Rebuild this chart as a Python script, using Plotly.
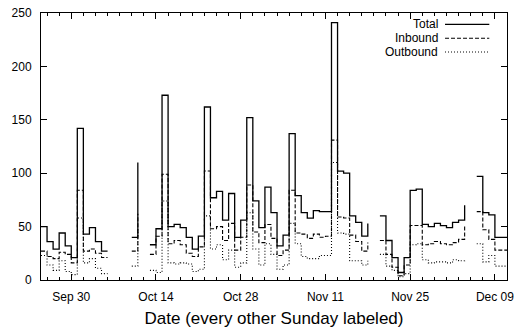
import pandas as pd
import plotly.graph_objects as go

N = None
# daily values from 2007-09-25 to 2007-12-11 (None = no data)
dates = pd.date_range("2007-09-25", "2007-12-11", freq="D")

total = [50, 36, 29, 44, 32, 21, 142, 43, 49, 36, 27, 27,
         N, N, N,
         40, 110,
         N,
         33, 48, 173, 50, 52, 49, 40, 29, 41, 162, 77, 83, 56, 81, 40, 56,
         152, 74, 49, 87, 63, 32, 42, 137, 79, 63, 58, 65, 64, 64, 241,
         102, 100, 60, 54, 41, 53,
         N,
         60, 37, 21, 7, 21, 84, 85, 52, 50, 53, 51, 49, 54, 56, 70,
         N,
         97, 63, 61, 40, 40, 40]

inbound = [27, 22, 20, 26, 24, 16, 84, 27, 29, 25, 21, 21,
           N, N, N,
           27, 62,
           N,
           24, 41, 99, 34, 37, 33, 25, 22, 31, 102, 48, 50, 37, 53, 28, 40,
           89, 45, 35, 52, 39, 23, 28, 84, 44, 43, 39, 43, 40, 41, 131,
           59, 58, 42, 36, 27, 35,
           N,
           37, 24, 12, 4, 14, 51, 51, 33, 34, 36, 34, 33, 35, 38, 50,
           N,
           64, 47, 38, 28, 28, 28]

outbound = [23, 14, 9, 18, 8, 5, 58, 16, 20, 11, 6, 6,
            N, N, N,
            13, 48,
            N,
            9, 7, 74, 16, 15, 16, 15, 8, 10, 60, 29, 33, 19, 28, 12, 16,
            63, 29, 14, 34, 24, 10, 14, 53, 34, 22, 20, 20, 23, 23, 110,
            44, 43, 18, 18, 14, 18,
            N,
            24, 13, 9, 3, 6, 33, 34, 19, 16, 17, 17, 16, 19, 18, 20,
            N,
            34, 17, 23, 13, 13, 13]

tick_dates = ["2007-09-30", "2007-10-14", "2007-10-28", "2007-11-11",
              "2007-11-25", "2007-12-09"]
tick_labels = ["Sep 30", "Oct 14", "Oct 28", "Nov 11", "Nov 25", "Dec 09"]
series_names = ["Total", "Inbound", "Outbound"]

FONT = "Liberation Sans, Arial, Helvetica, sans-serif"
styles = [dict(color="black", width=1.3, dash="solid"),
          dict(color="black", width=1.1, dash="4px,2px"),
          dict(color="black", width=1.1, dash="1px,2px")]

fig = go.Figure()
for name, vals, st in zip(series_names, [total, inbound, outbound], styles):
    fig.add_trace(go.Scatter(x=dates, y=vals, mode="lines", name=name,
                             line=dict(shape="hv", **st),
                             connectgaps=False, showlegend=False))

# legend drawn gnuplot-style: text right-aligned, sample to the right
for i, (name, st) in enumerate(zip(series_names, styles)):
    yp = 1 - (11.6 + 14 * i) / 271.3
    fig.add_annotation(x=0.857, y=yp, xref="paper", yref="paper",
                       text=name, showarrow=False, xanchor="right",
                       yanchor="middle", font=dict(family=FONT, size=12, color="black"))
    fig.add_shape(type="line", xref="paper", yref="paper",
                  x0=0.867, x1=0.962, y0=yp, y1=yp,
                  line=dict(color="black", width=st["width"], dash=st["dash"]))

axis_common = dict(showline=True, linecolor="black", linewidth=1, mirror="allticks",
                   ticks="inside", tickcolor="black", tickwidth=1, showgrid=False,
                   zeroline=False, tickfont=dict(family=FONT, size=12, color="black"))

fig.update_xaxes(type="date", range=["2007-09-25", "2007-12-11"],
                 tickmode="array", tickvals=tick_dates, ticktext=tick_labels,
                 ticklen=6, ticklabelstandoff=6, ticklabeloverflow="allow",
                 minor=dict(ticks="inside", ticklen=3, dtick=2 * 86400000,
                            tick0="2007-09-30", tickcolor="black", showgrid=False),
                 title=dict(text="Date (every other Sunday labeled)",
                            font=dict(family=FONT, size=17, color="black"), standoff=8),
                 **axis_common)
fig.update_yaxes(range=[0, 250], dtick=50, ticklen=6, ticklabelstandoff=6,
                 **axis_common)

fig.update_layout(width=520, height=330, margin=dict(l=41, r=6, t=13, b=46),
                  paper_bgcolor="white", plot_bgcolor="white",
                  font=dict(family=FONT, size=12, color="black"))

fig.write_html("out.html")
